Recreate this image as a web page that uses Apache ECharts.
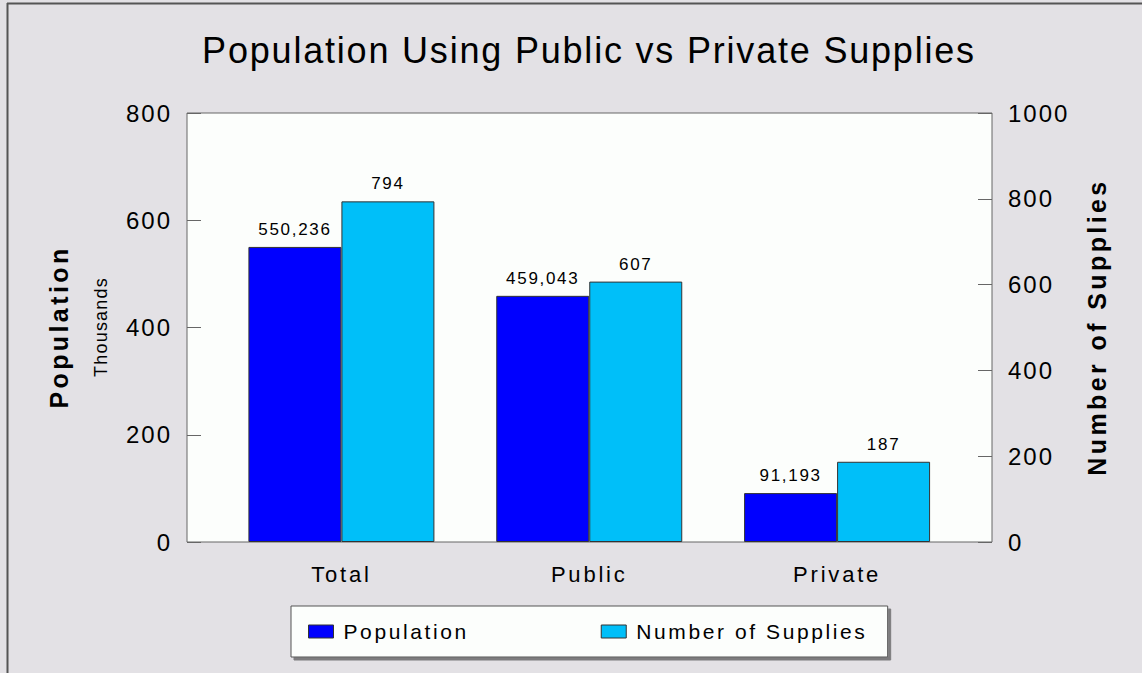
<!DOCTYPE html>
<html>
<head>
<meta charset="utf-8">
<script src="https://cdn.jsdelivr.net/npm/echarts@6/dist/echarts.min.js"></script>
<style>
  html, body { margin: 0; padding: 0; background: #e3e1e5; }
  #chart { width: 1142px; height: 673px; }
  /* the source renderer spaces its glyphs wider than Liberation Sans */
  #chart svg text { letter-spacing: 2px; }
  #chart svg text[style*="36px"] { letter-spacing: 1.8px; }
  #chart svg text[style*="24px"] { letter-spacing: 2px; }
  #chart svg text[style*="22px"] { letter-spacing: 2.8px; }
  #chart svg text[style*="21px"] { letter-spacing: 2.6px; }
  #chart svg text[style*="17px"] { letter-spacing: 1.7px; }
  #chart svg text[style*="25px"] { letter-spacing: 3.4px; }
  #chart svg text[style*="18px"] { letter-spacing: 1.2px; }
</style>
</head>
<body>
<div id="chart"></div>
<script>
const categories = ['Total', 'Public', 'Private']
// population in thousands (labels show the full count)
const population = [550.236, 459.043, 91.193]
const supplies = [794, 607, 187]

const FONT = '"Liberation Sans", Arial, sans-serif'
const PLOT = { left: 187, top: 113, width: 805, height: 429 }
const BARS = { left: 217.5, top: 113, width: 743.5, height: 429 }

const chart = echarts.init(document.getElementById('chart'), null, { renderer: 'svg' })

const fmtThousands = v => Math.round(v * 1000).toLocaleString('en-US')
const tickLabel = { fontFamily: FONT, fontSize: 24, color: '#000' }

chart.setOption({
  backgroundColor: '#e3e1e5',
  animation: false,
  textStyle: { fontFamily: FONT },
  title: {
    text: 'Population Using Public vs Private Supplies',
    // centred over the plot area, not the page
    left: 584,
    textAlign: 'center',
    top: 27,
    textStyle: { fontFamily: FONT, fontSize: 36, fontWeight: 'normal', color: '#000' },
  },
  legend: {
    left: 291,
    top: 606,
    // extra right padding / gap make room for the wider letter spacing
    padding: [15, 67, 15, 17],
    itemGap: 158,
    itemWidth: 25,
    itemHeight: 13,
    icon: 'rect',
    backgroundColor: '#fcfefc',
    borderColor: '#555',
    borderWidth: 1,
    shadowColor: 'rgba(0,0,0,0.45)',
    shadowOffsetX: 3,
    shadowOffsetY: 3,
    shadowBlur: 0,
    textStyle: { fontFamily: FONT, fontSize: 21, color: '#000', padding: [0, 0, 0, 5] },
    itemStyle: { borderColor: '#333', borderWidth: 1 },
    data: ['Population', 'Number of Supplies'],
  },
  grid: [
    { ...PLOT, show: true, backgroundColor: '#fcfefc', borderColor: '#666', borderWidth: 1 },
    { ...BARS, show: false },
  ],
  xAxis: [
    { gridIndex: 0, type: 'category', data: categories, show: false },
    {
      gridIndex: 1,
      type: 'category',
      data: categories,
      axisLine: { show: false },
      axisTick: { show: false },
      axisLabel: { fontFamily: FONT, fontSize: 22, color: '#000', margin: 21 },
    },
  ],
  yAxis: [
    {
      gridIndex: 0, type: 'value', min: 0, max: 800, interval: 200, position: 'left',
      axisLine: { show: false },
      axisTick: { show: true, inside: true, length: 14, lineStyle: { color: '#666' } },
      axisLabel: { ...tickLabel, margin: 15, formatter: v => String(v) },
      splitLine: { show: false },
    },
    {
      gridIndex: 0, type: 'value', min: 0, max: 1000, interval: 200, position: 'right',
      axisLine: { show: false },
      axisTick: { show: true, inside: true, length: 14, lineStyle: { color: '#666' } },
      axisLabel: { ...tickLabel, margin: 16, formatter: v => String(v) },
      splitLine: { show: false },
    },
    { gridIndex: 1, type: 'value', min: 0, max: 800, show: false, splitLine: { show: false } },
    { gridIndex: 1, type: 'value', min: 0, max: 1000, show: false, splitLine: { show: false } },
  ],
  series: [
    {
      name: 'Population',
      type: 'bar',
      xAxisIndex: 1,
      yAxisIndex: 2,
      data: population,
      barWidth: 93,
      barGap: '0%',
      itemStyle: { color: '#0000ff', borderColor: '#333', borderWidth: 1 },
      label: {
        show: true, position: 'top', distance: 9,
        fontFamily: FONT, fontSize: 17, color: '#000',
        formatter: p => fmtThousands(p.value),
      },
    },
    {
      name: 'Number of Supplies',
      type: 'bar',
      xAxisIndex: 1,
      yAxisIndex: 3,
      data: supplies,
      barWidth: 93,
      barGap: '0%',
      itemStyle: { color: '#00bff9', borderColor: '#333', borderWidth: 1 },
      label: {
        show: true, position: 'top', distance: 9,
        fontFamily: FONT, fontSize: 17, color: '#000',
      },
    },
  ],
  graphic: [
    // outer frame lines (top and left only, as in the source image)
    { type: 'line', shape: { x1: 7, y1: 3.5, x2: 1142, y2: 3.5 }, style: { stroke: '#555', lineWidth: 2 } },
    { type: 'line', shape: { x1: 7.5, y1: 3, x2: 7.5, y2: 673 }, style: { stroke: '#555', lineWidth: 2 } },
    {
      type: 'text', x: 59, y: 327, rotation: Math.PI / 2,
      style: { text: 'Population', font: 'bold 25px ' + FONT, fill: '#000', textAlign: 'center', textVerticalAlign: 'middle' },
    },
    {
      type: 'text', x: 101, y: 327, rotation: Math.PI / 2,
      style: { text: 'Thousands', font: '18px ' + FONT, fill: '#000', textAlign: 'center', textVerticalAlign: 'middle' },
    },
    {
      type: 'text', x: 1097, y: 327, rotation: Math.PI / 2,
      style: { text: 'Number of Supplies', font: 'bold 25px ' + FONT, fill: '#000', textAlign: 'center', textVerticalAlign: 'middle' },
    },
  ],
})
</script>
</body>
</html>
